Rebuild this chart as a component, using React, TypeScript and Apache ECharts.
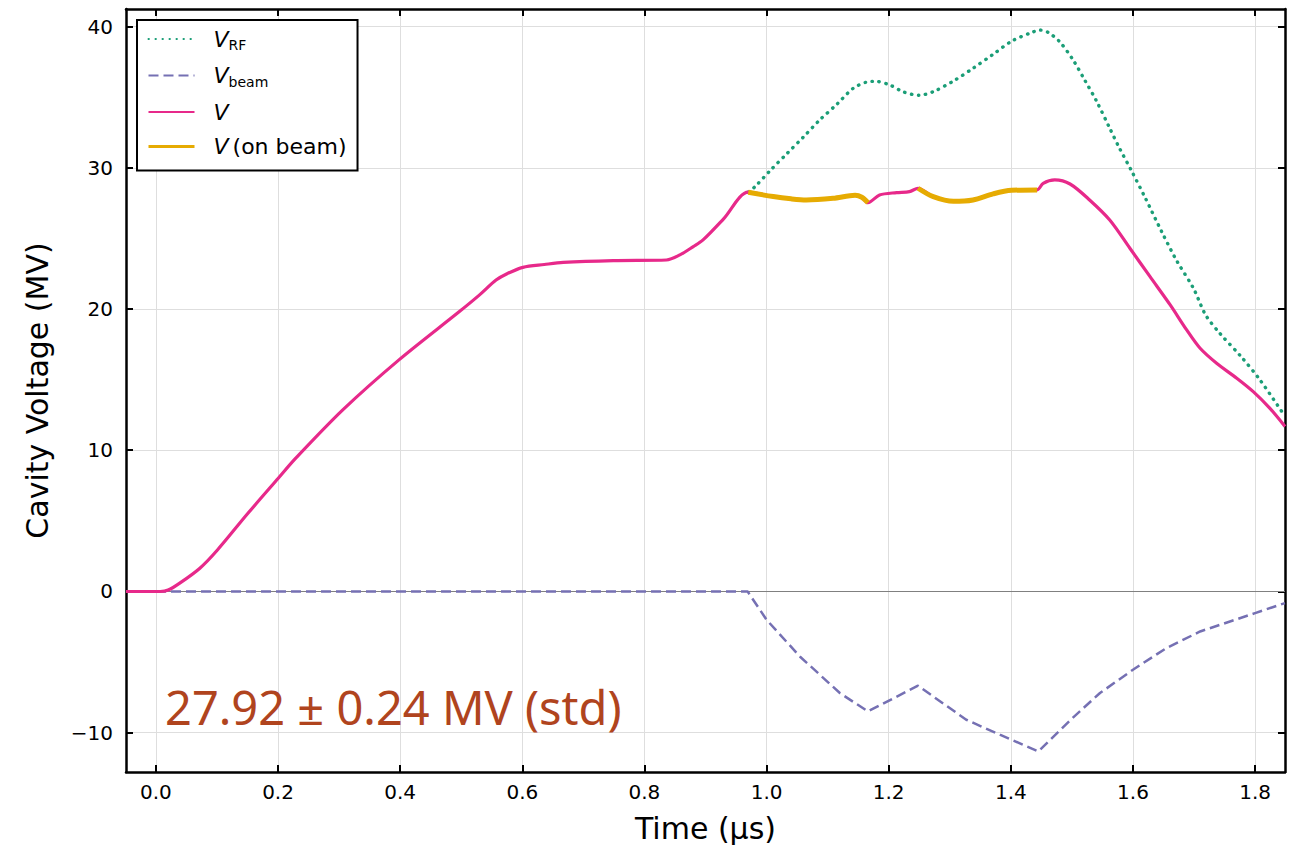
import React, { useEffect, useRef } from "react";
import * as echarts from "echarts";

// ---- data (time in µs, voltage in MV) ----
const vTime = [-0.049, 0.007, 0.02, 0.039, 0.072, 0.1, 0.15, 0.2, 0.229, 0.306, 0.398, 0.497, 0.53, 0.557, 0.575, 0.601, 0.636, 0.667, 0.749, 0.836, 0.858, 0.88, 0.896, 0.93, 0.97, 1.011, 1.04, 1.065, 1.109, 1.145, 1.156, 1.166, 1.185, 1.213, 1.234, 1.248, 1.273, 1.306, 1.338, 1.371, 1.401, 1.443, 1.453, 1.472, 1.497, 1.529, 1.562, 1.595, 1.628, 1.661, 1.688, 1.71, 1.737, 1.77, 1.797, 1.824, 1.849];
const vValue = [0, 0, 0.1, 0.59, 1.65, 2.9, 5.5, 8.0, 9.44, 12.86, 16.4, 19.82, 21.0, 22.05, 22.5, 22.95, 23.15, 23.3, 23.43, 23.47, 23.83, 24.42, 24.89, 26.4, 28.27, 27.96, 27.8, 27.72, 27.84, 28.05, 27.91, 27.53, 28.07, 28.24, 28.31, 28.55, 27.95, 27.62, 27.72, 28.15, 28.4, 28.43, 28.9, 29.14, 28.85, 27.72, 26.3, 24.3, 22.29, 20.29, 18.52, 17.22, 16.16, 15.1, 14.15, 12.98, 11.68];

const rfTime = [0.97, 0.981, 1.007, 1.034, 1.06, 1.087, 1.115, 1.142, 1.164, 1.178, 1.202, 1.224, 1.25, 1.273, 1.306, 1.338, 1.371, 1.401, 1.436, 1.4475, 1.461, 1.48, 1.502, 1.521, 1.54, 1.562, 1.578, 1.597, 1.62, 1.647, 1.671, 1.699, 1.719, 1.742, 1.776, 1.808, 1.849];
const rfValue = [28.27, 28.66, 29.85, 31.03, 32.16, 33.38, 34.49, 35.63, 36.07, 36.12, 35.86, 35.37, 35.13, 35.39, 36.14, 37.04, 38.03, 38.95, 39.61, 39.75, 39.59, 38.92, 37.63, 36.21, 34.75, 32.8, 31.38, 29.84, 27.88, 25.48, 23.47, 21.47, 19.58, 18.29, 16.68, 14.98, 12.4];

const beamTime = [-0.049, 0.969, 1.0, 1.0545, 1.12, 1.166, 1.248, 1.327, 1.382, 1.445, 1.5, 1.546, 1.6, 1.655, 1.71, 1.8, 1.849];
const beamValue = [0, 0, -2.0, -4.6, -7.19, -8.49, -6.67, -9.08, -10.14, -11.32, -9.0, -7.19, -5.54, -4.0, -2.83, -1.53, -0.82];

// beam-on windows (µs)
const beamWindows = [[0.97, 1.166], [1.248, 1.443]];

const xTicks = [0, 0.2, 0.4, 0.6, 0.8, 1.0, 1.2, 1.4, 1.6, 1.8];
const yTicks = [-10, 0, 10, 20, 30, 40];

const annotation = "27.92 ± 0.24 MV (std)";

const FONT = "DejaVu Sans";

export default function App() {
  const ref = useRef<HTMLDivElement>(null);
  useEffect(() => {
    if (!ref.current) return;
    const chart = echarts.init(ref.current, undefined, { renderer: "svg" });

    const zip = (t: number[], v: number[]) => t.map((x, i) => [x, v[i]]);
    const onBeam = vTime.map((t, i) => {
      const inside = beamWindows.some(([a, b]) => t >= a - 1e-9 && t <= b + 1e-9);
      return [t, inside ? vValue[i] : null];
    });

    const axisLine = { show: true, onZero: false, lineStyle: { color: "#000", width: 2.5 } };
    const tickStyle = { color: "#000", width: 2 };

    const legendNames: Record<string, string> = {
      V_RF: "{i|V}{s|RF}",
      V_beam: "{i|V}{s|beam}",
      V: "{i|V}",
      V_on: "{i|V}{t|(on beam)}",
    };

    chart.setOption({
      animation: false,
      backgroundColor: "#fff",
      grid: { left: 126, right: 4, top: 9, bottom: 78, containLabel: false },
      xAxis: [
        {
          type: "value",
          min: -0.049,
          max: 1.849,
          splitNumber: 10,
          position: "bottom",
          axisLine,
          axisTick: { show: true, inside: true, length: 7, lineStyle: tickStyle, customValues: xTicks },
          axisLabel: {
            customValues: xTicks,
            formatter: (v: number) => v.toFixed(1),
            fontSize: 20,
            color: "#000",
            fontFamily: FONT,
            margin: 10,
          },
          splitLine: { show: true, lineStyle: { color: "#dedede", width: 1 } },
          name: "Time (μs)",
          nameLocation: "middle",
          nameGap: 41,
          nameTextStyle: { fontSize: 30, color: "#000", fontFamily: FONT },
        },
        {
          type: "value",
          min: -0.049,
          max: 1.849,
          position: "top",
          axisLine,
          axisTick: { show: true, inside: true, length: 7, lineStyle: tickStyle, customValues: xTicks },
          axisLabel: { show: false },
          splitLine: { show: false },
        },
      ],
      yAxis: [
        {
          type: "value",
          min: -12.78,
          max: 41.24,
          splitNumber: 5,
          position: "left",
          axisLine,
          axisTick: { show: true, inside: true, length: 7, lineStyle: tickStyle, customValues: yTicks },
          axisLabel: {
            customValues: yTicks,
            formatter: (v: number) => (v < 0 ? "\u2212" + Math.abs(v) : String(v)),
            fontSize: 20,
            color: "#000",
            fontFamily: FONT,
            margin: 13,
          },
          splitLine: { show: true, lineStyle: { color: "#dedede", width: 1 } },
          name: "Cavity Voltage (MV)",
          nameLocation: "middle",
          nameGap: 74,
          nameRotate: 90,
          nameTextStyle: { fontSize: 30, color: "#000", fontFamily: FONT },
        },
        {
          type: "value",
          min: -12.78,
          max: 41.24,
          position: "right",
          axisLine,
          axisTick: { show: true, inside: true, length: 7, lineStyle: tickStyle, customValues: yTicks },
          axisLabel: { show: false },
          splitLine: { show: false },
        },
      ],
      legend: {
        show: true,
        orient: "vertical",
        left: 137,
        top: 20,
        padding: [8, 11, 13, 10],
        itemGap: 12.5,
        itemWidth: 46,
        itemHeight: 14,
        borderColor: "#000",
        borderWidth: 2,
        backgroundColor: "#fff",
        selectedMode: false,
        itemStyle: { opacity: 0 },
        formatter: (name: string) => legendNames[name] || name,
        textStyle: {
          color: "#000",
          fontFamily: FONT,
          rich: {
            i: { fontSize: 22, fontStyle: "italic", fontFamily: FONT, lineHeight: 26, padding: [0, 0, 0, 14], color: "#000" },
            s: { fontSize: 14, fontFamily: FONT, lineHeight: 16, verticalAlign: "bottom", color: "#000" },
            t: { fontSize: 22, fontFamily: FONT, lineHeight: 26, padding: [0, 0, 0, 4], color: "#000" },
          },
        },
        data: [
          { name: "V_RF" },
          { name: "V_beam" },
          { name: "V" },
          { name: "V_on", lineStyle: { width: 3 } },
        ],
      },
      series: [
        {
          name: "V_RF",
          type: "line",
          xAxisIndex: 0,
          yAxisIndex: 0,
          symbol: "none",
          smooth: 0.3,
          data: zip(rfTime, rfValue),
          lineStyle: { color: "#1B9E77", width: 3.4, type: [0.4, 6.6], cap: "round" },
          itemStyle: { color: "#1B9E77" },
          z: 2,
        },
        {
          name: "V_beam",
          type: "line",
          xAxisIndex: 0,
          yAxisIndex: 0,
          symbol: "none",
          data: zip(beamTime, beamValue),
          lineStyle: { color: "#7570B3", width: 2.5, type: [10, 5] },
          itemStyle: { color: "#7570B3" },
          z: 3,
          markLine: {
            silent: true,
            symbol: "none",
            label: { show: false },
            lineStyle: { color: "#808080", width: 1.2, type: "solid" },
            data: [{ yAxis: 0 }],
            z: 1,
          },
        },
        {
          name: "V",
          type: "line",
          xAxisIndex: 0,
          yAxisIndex: 0,
          symbol: "none",
          smooth: 0.3,
          data: zip(vTime, vValue),
          lineStyle: { color: "#E7298A", width: 3.2 },
          itemStyle: { color: "#E7298A" },
          z: 4,
        },
        {
          name: "V_on",
          type: "line",
          xAxisIndex: 0,
          yAxisIndex: 0,
          symbol: "none",
          smooth: 0.3,
          connectNulls: false,
          data: onBeam,
          lineStyle: { color: "#E6AB02", width: 5 },
          itemStyle: { color: "#E6AB02" },
          z: 5,
        },
      ],
      graphic: [
        {
          type: "text",
          left: 165,
          top: 683,
          z: 10,
          style: {
            text: annotation,
            fontSize: 47,
            fontFamily: "Noto Sans",
            fill: "#B0441E",
          },
        },
      ],
    });

    return () => chart.dispose();
  }, []);

  return (
    <div
      ref={ref}
      style={{ position: "fixed", left: 0, top: 0, width: 1289, height: 850 }}
    />
  );
}
